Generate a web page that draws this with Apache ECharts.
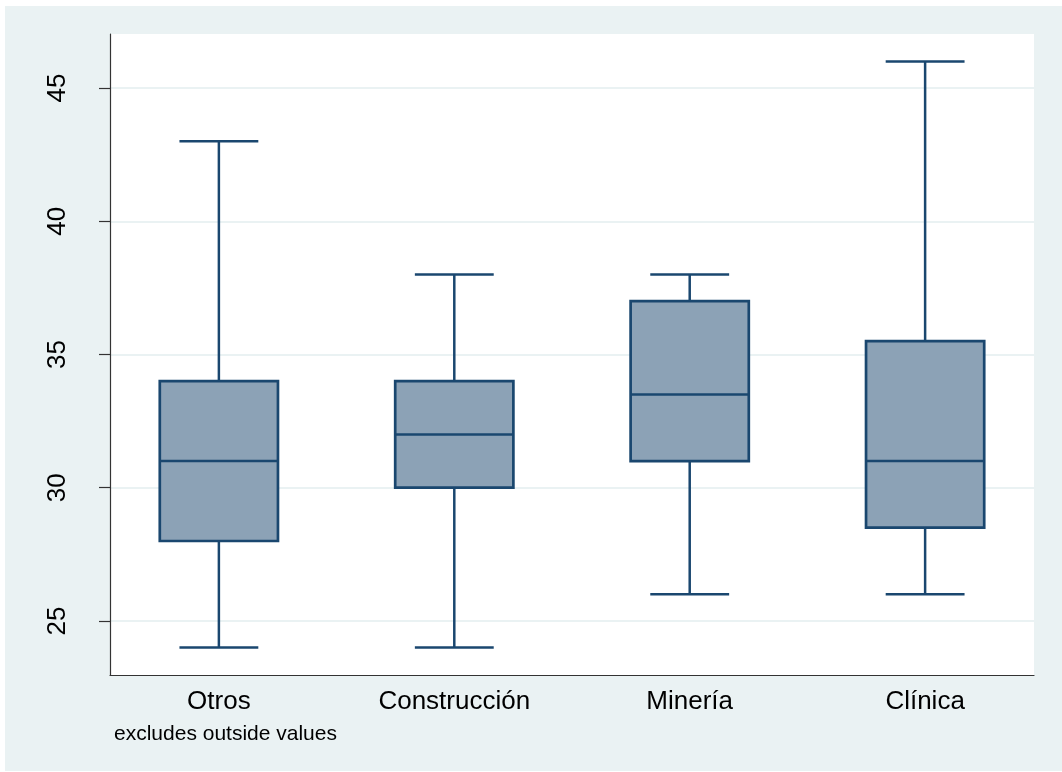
<!DOCTYPE html>
<html>
<head>
<meta charset="utf-8">
<script src="https://cdn.jsdelivr.net/npm/echarts@6/dist/echarts.min.js"></script>
<style>
html,body{margin:0;padding:0;background:#fff;}
#chart{width:1062px;height:772px;}
</style>
</head>
<body>
<div id="chart"></div>
<script>
const categories = ['Otros', 'Construcción', 'Minería', 'Clínica'];
const lowerWhisker = [24, 24, 26, 26];
const q1 = [28, 30, 31, 28.5];
const median = [31, 32, 33.5, 31];
const q3 = [34, 34, 37, 35.5];
const upperWhisker = [43, 38, 38, 46];
const yTicks = [25, 30, 35, 40, 45];
const note = 'excludes outside values';

const FONT = '"Liberation Sans", Arial, Helvetica, sans-serif';
const NAVY = '#1A476F';
const FILL = '#8CA2B6';
const BG = '#EAF2F3';

const boxData = categories.map((c, i) => [i + 1, lowerWhisker[i], q1[i], median[i], q3[i], upperWhisker[i]]);

const chart = echarts.init(document.getElementById('chart'));

function renderBox(params, api) {
  const x = api.value(0);
  const lo = api.coord([x, api.value(1)]);
  const b1 = api.coord([x, api.value(2)]);
  const md = api.coord([x, api.value(3)]);
  const b3 = api.coord([x, api.value(4)]);
  const hi = api.coord([x, api.value(5)]);
  const boxW = api.size([0.502, 0])[0];
  const capW = api.size([0.335, 0])[0];
  const cx = lo[0];
  const lineStyle = { stroke: NAVY, lineWidth: 2.5 };
  return {
    type: 'group',
    children: [
      { type: 'line', shape: { x1: cx, y1: lo[1], x2: cx, y2: b1[1] }, style: lineStyle },
      { type: 'line', shape: { x1: cx, y1: b3[1], x2: cx, y2: hi[1] }, style: lineStyle },
      { type: 'line', shape: { x1: cx - capW / 2, y1: lo[1], x2: cx + capW / 2, y2: lo[1] }, style: lineStyle },
      { type: 'line', shape: { x1: cx - capW / 2, y1: hi[1], x2: cx + capW / 2, y2: hi[1] }, style: lineStyle },
      { type: 'rect', shape: { x: cx - boxW / 2, y: b3[1], width: boxW, height: b1[1] - b3[1] },
        style: { fill: FILL, stroke: NAVY, lineWidth: 2.7 } },
      { type: 'line', shape: { x1: cx - boxW / 2, y1: md[1], x2: cx + boxW / 2, y2: md[1] }, style: { stroke: NAVY, lineWidth: 2.5 } }
    ]
  };
}

chart.setOption({
  animation: false,
  backgroundColor: '#fff',
  graphic: [
    { type: 'rect', z: -10, shape: { x: 5, y: 6, width: 1057, height: 765 }, style: { fill: BG } },
    { type: 'text', left: 114, top: 724, style: { text: note, font: '21px ' + FONT, fill: '#000' } }
  ],
  grid: { left: 110, top: 34, right: 28, bottom: 97, show: true, backgroundColor: '#fff', borderWidth: 0 },
  xAxis: {
    type: 'value', min: 0.5375, max: 4.4625,
    axisLine: { show: true, lineStyle: { color: '#333', width: 1.2 } },
    axisTick: { show: false },
    splitLine: { show: false },
    axisLabel: {
      customValues: [1, 2, 3, 4],
      formatter: v => categories[Math.round(v) - 1] || '',
      color: '#000', fontSize: 26, fontFamily: FONT, margin: 14
    }
  },
  yAxis: {
    type: 'value', min: 22.97, max: 47.03,
    axisLine: { show: true, lineStyle: { color: '#333', width: 1.2 } },
    axisTick: { show: true, customValues: yTicks, length: 11, lineStyle: { color: '#333', width: 1.2 } },
    splitLine: { show: true, lineStyle: { color: BG, width: 2 } },
    axisLabel: { customValues: yTicks, rotate: 90, color: '#000', fontSize: 26, fontFamily: FONT, margin: 39 }
  },
  series: [{
    type: 'custom',
    renderItem: renderBox,
    data: boxData,
    encode: { x: 0, y: [1, 2, 3, 4, 5] },
    clip: false
  }]
});
</script>
</body>
</html>
